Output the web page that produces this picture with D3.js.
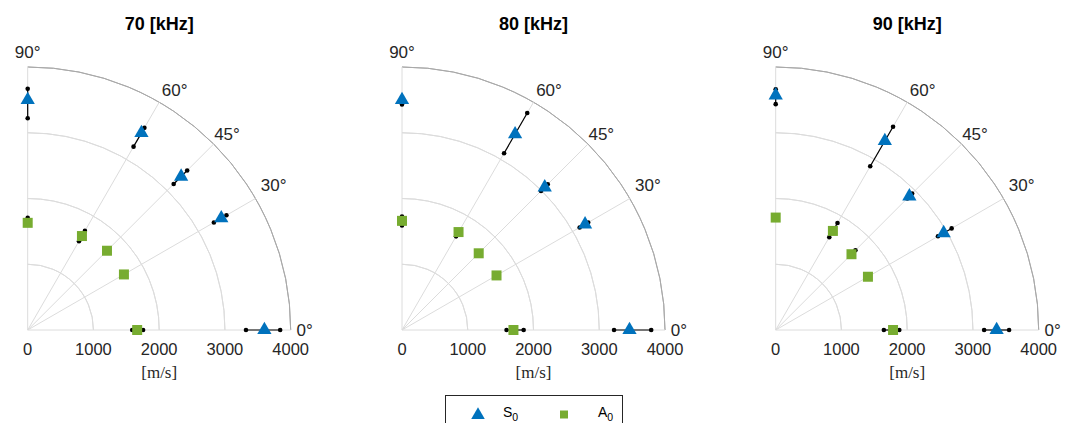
<!DOCTYPE html>
<html>
<head>
<meta charset="utf-8">
<script src="https://cdn.jsdelivr.net/npm/d3@7"></script>
<style>
  html, body { margin: 0; padding: 0; background: #fff; }
  svg { display: block; }
</style>
</head>
<body>
<svg id="chart" width="1073" height="423"></svg>
<script>
// ---------- data ----------
const panelTitles = ["70 [kHz]", "80 [kHz]", "90 [kHz]"];
const angles = [0, 30, 45, 60, 90];          // degrees
const radialTicks = [0, 1000, 2000, 3000, 4000];
const gridAngles = [0, 30, 45, 60, 90];
const angleLabels = ["0°", "30°", "45°", "60°", "90°"];

// S0 group velocity [m/s] per panel (70, 80, 90 kHz), at angles 0,30,45,60,90
const s0Speed = [
  [3600, 3400, 3300, 3460, 3500],
  [3460, 3215, 3070, 3440, 3500],
  [3360, 2950, 2875, 3320, 3570]
];
const s0Low = [
  [3320, 3270, 3140, 3220, 3220],
  [3225, 3120, 2990, 3105, 3430],
  [3170, 2850, 2830, 2875, 3435]
];
const s0High = [
  [3840, 3490, 3430, 3550, 3670],
  [3790, 3270, 3135, 3810, 3530],
  [3550, 3090, 2935, 3570, 3660]
];

// A0 group velocity [m/s]
const a0Speed = [
  [1665, 1690, 1705, 1650, 1630],
  [1695, 1660, 1650, 1720, 1660],
  [1785, 1620, 1630, 1740, 1710]
];
const a0Low = [
  [1590, 1670, 1690, 1560, 1600],
  [1590, 1640, 1630, 1645, 1590],
  [1645, 1600, 1600, 1630, 1690]
];
const a0High = [
  [1755, 1710, 1720, 1740, 1705],
  [1850, 1680, 1670, 1750, 1725],
  [1880, 1640, 1715, 1880, 1730]
];

const seriesNames = ["S", "A"];
const seriesSub = ["0", "0"];

// ---------- layout ----------
const svg = d3.select("#chart");
const R = 263;
const originsX = [27.7, 402, 775.7];
const originY = 330;
const blue = "#0072BD", green = "#77AC30";
const gridColor = "#dcdcdc", outerColor = "#a9a9a9", textColor = "#262626";
// small visual nudges for the angle labels (layout only)
const labelNudge = {0: [0, 0], 30: [0, -3], 45: [-1.5, 5], 60: [5, 6], 90: [0, 0]};

const r = d3.scaleLinear().domain([0, 4000]).range([0, R]);
const toRad = d => d * Math.PI / 180;
const px = (val, a) => r(val) * Math.cos(toRad(a));
const py = (val, a) => -r(val) * Math.sin(toRad(a));

const triPath = d3.symbol().type(d3.symbolTriangle).size(88)();
const sqPath = d3.symbol().type(d3.symbolSquare).size(100)();

panelTitles.forEach((title, p) => {
  const g = svg.append("g").attr("transform", `translate(${originsX[p]},${originY})`);

  // circular grid
  const arc = d3.arc();
  radialTicks.slice(1).forEach(t => {
    g.append("path")
      .attr("d", arc({innerRadius: r(t), outerRadius: r(t), startAngle: 0, endAngle: Math.PI / 2}))
      .attr("fill", "none")
      .attr("stroke", t === 4000 ? outerColor : gridColor)
      .attr("stroke-width", 1);
  });
  // spokes
  gridAngles.forEach(a => {
    g.append("line")
      .attr("x1", 0).attr("y1", 0)
      .attr("x2", px(4000, a)).attr("y2", py(4000, a))
      .attr("stroke", gridColor).attr("stroke-width", 1);
  });

  // angle labels
  gridAngles.forEach((a, i) => {
    let x, y;
    if (a === 0) { x = r(4000) + 14; y = 0; }
    else if (a === 90) { x = 0; y = -r(4000) - 15; }
    else { x = (r(4000) + 21) * Math.cos(toRad(a)); y = -(r(4000) + 21) * Math.sin(toRad(a)); }
    x += labelNudge[a][0]; y += labelNudge[a][1];
    g.append("text")
      .attr("x", x).attr("y", y)
      .attr("text-anchor", "middle")
      .attr("dominant-baseline", "central")
      .attr("font-family", "Liberation Sans, Arial, sans-serif")
      .attr("font-size", 17)
      .attr("fill", textColor)
      .text(angleLabels[i]);
  });

  // radial tick labels
  radialTicks.forEach(t => {
    g.append("text")
      .attr("x", r(t)).attr("y", 25)
      .attr("text-anchor", "middle")
      .attr("font-family", "Liberation Sans, Arial, sans-serif")
      .attr("font-size", 16.5)
      .attr("fill", textColor)
      .text(t);
  });

  // axis unit label
  g.append("text")
    .attr("x", r(2000)).attr("y", 48)
    .attr("text-anchor", "middle")
    .attr("font-family", "Liberation Serif, Times New Roman, serif")
    .attr("font-size", 17)
    .attr("fill", textColor)
    .text("[m/s]");

  // title
  g.append("text")
    .attr("x", r(2000)).attr("y", 30 - originY)
    .attr("text-anchor", "middle")
    .attr("font-family", "Liberation Sans, Arial, sans-serif")
    .attr("font-weight", "bold")
    .attr("font-size", 18)
    .attr("fill", "#000")
    .text(title);

  // error bars
  const drawErr = (lo, hi) => {
    angles.forEach((a, i) => {
      g.append("line")
        .attr("x1", px(lo[i], a)).attr("y1", py(lo[i], a))
        .attr("x2", px(hi[i], a)).attr("y2", py(hi[i], a))
        .attr("stroke", "#000").attr("stroke-width", 1.2);
      [lo[i], hi[i]].forEach(v => {
        g.append("circle")
          .attr("cx", px(v, a)).attr("cy", py(v, a))
          .attr("r", 2.3).attr("fill", "#000");
      });
    });
  };
  drawErr(s0Low[p], s0High[p]);
  drawErr(a0Low[p], a0High[p]);

  // markers
  g.selectAll(".s0").data(angles).enter().append("path")
    .attr("d", triPath)
    .attr("transform", (a, i) => `translate(${px(s0Speed[p][i], a)},${py(s0Speed[p][i], a)})`)
    .attr("fill", blue);
  g.selectAll(".a0").data(angles).enter().append("path")
    .attr("d", sqPath)
    .attr("transform", (a, i) => `translate(${px(a0Speed[p][i], a)},${py(a0Speed[p][i], a)})`)
    .attr("fill", green);
});

// ---------- legend ----------
const lg = svg.append("g");
lg.append("rect")
  .attr("x", 445.5).attr("y", 395.5).attr("width", 177).attr("height", 40)
  .attr("fill", "#fff").attr("stroke", "#262626").attr("stroke-width", 1);
lg.append("path")
  .attr("d", d3.symbol().type(d3.symbolTriangle).size(80)())
  .attr("transform", "translate(478,415)").attr("fill", blue);
lg.append("path")
  .attr("d", d3.symbol().type(d3.symbolSquare).size(64)())
  .attr("transform", "translate(564,414.5)").attr("fill", green);
[[503, 0], [598, 1]].forEach(([x, i]) => {
  const t = lg.append("text")
    .attr("x", x).attr("y", 417)
    .attr("font-family", "Liberation Sans, Arial, sans-serif")
    .attr("font-size", 14)
    .attr("fill", "#000");
  t.append("tspan").text(seriesNames[i]);
  t.append("tspan").attr("dy", 3.5).attr("font-size", 10.5).text(seriesSub[i]);
});
</script>
</body>
</html>
